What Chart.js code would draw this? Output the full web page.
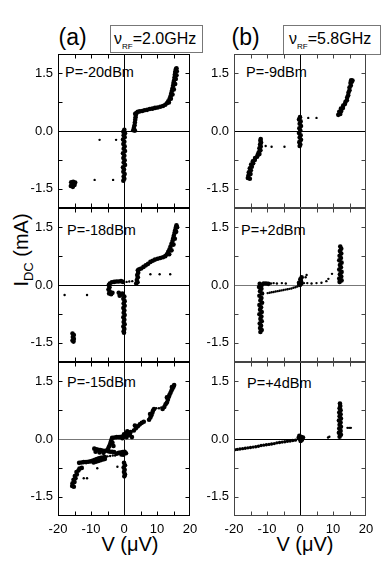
<!DOCTYPE html>
<html><head><meta charset="utf-8">
<script src="https://cdn.jsdelivr.net/npm/chart.js@4.4.0/dist/chart.umd.min.js"></script>
<style>
body{margin:0;background:#fff;}
#page{position:relative;width:382px;height:564px;overflow:hidden;font-family:"Liberation Sans",Arial,sans-serif;color:#000;background:#fff;}
canvas{position:absolute;}
.t{position:absolute;white-space:nowrap;line-height:1;}
.box{position:absolute;border:1px solid #777;box-sizing:border-box;}
</style></head><body><div id="page">
<div class="t" style="left:58.5px;top:25.5px;font-size:23px;">(a)</div>
<div class="t" style="left:231.5px;top:25.5px;font-size:23px;">(b)</div>
<div class="box" style="left:110px;top:25px;width:93px;height:28px;"></div>
<div class="box" style="left:283px;top:25px;width:98px;height:30px;"></div>
<div class="t" style="left:114px;top:31px;font-size:16px;">ν<span style="font-size:8px;position:relative;top:5px;">RF</span>=2.0GHz</div>
<div class="t" style="left:289px;top:31px;font-size:16px;">ν<span style="font-size:8px;position:relative;top:5px;">RF</span>=5.8GHz</div>
<div class="t" style="left:21px;top:250px;font-size:20px;transform:translate(-50%,-50%) rotate(-90deg);">I<span style="font-size:13px;position:relative;top:5px;">DC</span> (mA)</div>
<div class="t" style="left:130px;top:534px;font-size:20px;transform:translateX(-50%);">V (μV)</div>
<div class="t" style="left:305px;top:534px;font-size:20px;transform:translateX(-50%);">V (μV)</div>
<div class="t" style="left:65px;top:64.5px;font-size:14.5px;">P=-20dBm</div>
<div class="t" style="left:246px;top:64.5px;font-size:14.5px;">P=-9dBm</div>
<div class="t" style="left:67px;top:223px;font-size:14.5px;">P=-18dBm</div>
<div class="t" style="left:241px;top:223px;font-size:14.5px;">P=+2dBm</div>
<div class="t" style="left:67px;top:375px;font-size:14.5px;">P=-15dBm</div>
<div class="t" style="left:247px;top:375.5px;font-size:14.5px;">P=+4dBm</div>
</div>
<script>
// ---- axis ticks ----
const xTickVals = [-20,-15,-10,-5,0,5,10,15,20];
const xTickLabels = ['-20','','-10','','0','','10','','20'];
const yTickVals = [-1.5,-0.75,0,0.75,1.5];
const yTickLabels = ['-1.5','','0.0','','1.5'];

// ---- data: [V (µV), I_DC (mA)] ----
// (a) 2.0 GHz, P=-20dBm
const a1Dense = [[-16.0,-1.33],[-15.4,-1.32],[-14.8,-1.34],[-16.1,-1.43],[-15.5,-1.45],[-15.0,-1.40],[-15.7,-1.38],
[0.1,0.03],[-0.2,-0.02],[0.3,-0.06],[-0.1,-0.11],[0.2,-0.16],[-0.3,-0.22],[0.1,-0.28],[-0.2,-0.34],[0.2,-0.40],[-0.1,-0.46],[0.3,-0.52],[-0.3,-0.58],[0.1,-0.64],[-0.2,-0.70],[0.2,-0.76],[-0.1,-0.82],[0.3,-0.88],[-0.3,-0.94],[0.0,-1.00],[-0.2,-1.06],[0.2,-1.12],[-0.1,-1.18],[0.1,-1.24],[-0.2,-1.29],
[2.8,0.02],[3.3,0.01],[3.0,0.08],[3.2,0.15],[3.3,0.22],[3.4,0.29],[3.5,0.36],[3.6,0.42],[3.8,0.47],[3.4,0.45],[4.2,0.50],
[4.8,0.51],[5.5,0.52],[6.2,0.54],[7.0,0.55],[7.8,0.57],[8.6,0.58],[9.4,0.60],[10.2,0.61],[11.0,0.63],[11.8,0.65],[12.5,0.68],[13.0,0.72],[13.4,0.77],[13.8,0.83],[14.1,0.90],[14.3,0.97],[14.5,1.04],[14.7,1.11],[14.9,1.18],[15.0,1.25],[15.2,1.32],[15.3,1.39],[15.4,1.46],[15.5,1.53],[15.7,1.60],[15.9,1.63],[16.0,1.55],[15.9,1.45],[15.7,1.35],[15.5,1.22],[15.1,1.08],[14.7,0.95],[14.2,0.84],[13.6,0.74]];
const a1Sparse = [[-7.4,-0.23],[-2.4,-0.23],[-8.9,-1.27],[-3.3,-1.27]];

// (b) 5.8 GHz, P=-9dBm
const b1Dense = [[-15.8,-1.22],[-15.2,-1.24],[-15.6,-1.15],[-15.0,-1.12],[-15.5,-1.07],[-14.9,-1.02],[-15.2,-0.97],[-14.6,-0.93],[-14.8,-0.87],[-14.2,-0.84],[-14.3,-0.79],[-13.7,-0.75],[-13.6,-0.70],[-13.0,-0.67],[-12.8,-0.62],[-12.3,-0.60],[-12.5,-0.55],[-12.0,-0.50],[-12.3,-0.45],[-11.9,-0.40],[-12.1,-0.35],[-11.8,-0.30],[-12.0,-0.25],[-11.9,-0.21],
[0.0,0.36],[-0.3,0.30],[0.2,0.25],[-0.1,0.19],[0.3,0.13],[-0.2,0.07],[0.1,0.01],[-0.3,-0.05],[0.2,-0.11],[-0.1,-0.17],[0.3,-0.23],[-0.2,-0.29],[0.1,-0.35],[-0.1,-0.39],
[11.6,0.42],[12.2,0.44],[11.9,0.50],[12.5,0.52],[12.4,0.58],[13.0,0.60],[13.1,0.66],[13.6,0.70],[13.8,0.76],[14.2,0.80],[14.3,0.87],[14.6,0.93],[14.7,1.00],[15.0,1.06],[15.0,1.13],[15.4,1.18],[15.3,1.25],[15.7,1.28],[15.5,1.32],[15.9,1.31]];
const b1Sparse = [[-10.4,-0.39],[-8.6,-0.41],[-4.7,-0.41],[2.5,0.34],[5.0,0.34]];

// (a) P=-18dBm
const a2Dense = [[-15.6,-1.26],[-15.2,-1.30],[-15.5,-1.35],[-15.2,-1.40],[-15.6,-1.44],[-15.3,-1.47],
[-4.3,0.04],[-3.7,0.07],[-3.0,0.08],[-2.3,0.09],[-1.6,0.09],[-0.9,0.10],[-0.3,0.08],
[-4.6,0.00],[-4.4,-0.06],[-4.7,-0.12],[-4.3,-0.17],[-4.5,-0.22],[-3.9,-0.24],[-3.5,-0.20],
[-1.6,-0.20],[-1.0,-0.25],[-0.5,-0.22],[-1.3,-0.28],
[0.1,-0.30],[-0.2,-0.36],[0.2,-0.42],[-0.1,-0.48],[0.2,-0.54],[-0.2,-0.60],[0.1,-0.66],[-0.1,-0.72],[0.2,-0.78],[-0.2,-0.84],[0.1,-0.90],[-0.1,-0.96],[0.2,-1.02],[-0.2,-1.08],[0.1,-1.14],[-0.1,-1.20],[0.0,-1.24],
[3.7,0.04],[4.1,0.07],[3.9,0.13],[4.2,0.20],[4.0,0.26],[4.3,0.32],[4.2,0.38],[4.6,0.41],
[5.2,0.43],[5.9,0.47],[6.6,0.51],[7.3,0.55],[8.0,0.60],[8.7,0.63],[9.4,0.66],[10.2,0.68],[11.0,0.70],[11.8,0.72],[12.5,0.75],[13.0,0.80],[13.4,0.86],[13.8,0.93],[14.1,1.00],[14.4,1.07],[14.7,1.14],[14.9,1.21],[15.1,1.28],[15.3,1.35],[15.5,1.42],[15.7,1.49],[15.9,1.55],[16.1,1.50],[15.8,1.38],[15.4,1.20],[15.0,1.05],[14.4,0.90],[13.7,0.80]];
const a2Sparse = [[-18.0,-0.26],[-11.2,-0.26],[0.8,0.08],[1.6,0.09],[2.5,0.10],[8.0,0.28],[10.8,0.28],[14.0,0.28]];

// (b) P=+2dBm
const b2Dense = [[-12.2,0.03],[-11.6,0.00],[-12.4,-0.05],[-11.7,-0.10],[-12.1,-0.16],[-11.5,-0.22],[-12.3,-0.28],[-11.7,-0.34],[-12.0,-0.40],[-11.5,-0.46],[-12.3,-0.52],[-11.8,-0.58],[-12.1,-0.64],[-11.6,-0.70],[-12.3,-0.76],[-11.7,-0.82],[-12.0,-0.88],[-11.6,-0.94],[-12.2,-1.00],[-11.8,-1.06],[-12.1,-1.12],[-11.6,-1.17],[-12.0,-1.22],
[-11.0,0.04],[-10.3,0.04],[-9.6,0.03],
[0.0,0.00],[0.4,0.04],[-0.3,0.06],[0.3,0.10],[0.1,0.15],[0.5,0.20],[-0.2,0.02],
[12.0,0.08],[12.6,0.12],[11.9,0.17],[12.5,0.22],[12.1,0.28],[12.6,0.34],[11.9,0.40],[12.4,0.46],[12.1,0.52],[12.6,0.58],[11.9,0.64],[12.4,0.70],[12.0,0.76],[12.5,0.82],[12.1,0.88],[12.5,0.94],[12.2,1.00]];
const b2Sparse = [[-9.8,-0.21],[-9.2,-0.20],[-8.6,-0.19],[-8.0,-0.18],[-7.4,-0.17],[-6.8,-0.16],[-6.2,-0.15],[-5.6,-0.14],[-5.0,-0.13],[-4.4,-0.12],[-3.8,-0.11],[-3.2,-0.10],[-2.6,-0.09],[-2.0,-0.07],[-1.4,-0.06],[-0.8,-0.04],
[-8.8,0.04],[-8.0,0.05],[-7.0,0.04],[-5.5,0.05],[-4.3,0.04],
[1.2,0.05],[2.2,0.05],[3.5,0.04],[5.0,0.05],[6.5,0.06],[8.0,0.10],[8.6,0.16],[9.7,0.29],[2.0,0.26],[1.7,0.20]];

// (a) P=-15dBm
const a3Dense = [[-15.7,-1.22],[-15.2,-1.24],[-15.6,-1.15],[-15.0,-1.12],[-15.3,-1.06],[-14.7,-1.02],[-14.9,-0.96],[-14.3,-0.92],[-14.4,-0.86],[-13.8,-0.82],[-13.5,-0.77],[-12.8,-0.75],
[-13.6,-0.62],[-12.9,-0.61],[-12.2,-0.60],[-11.5,-0.60],[-10.8,-0.59],[-10.1,-0.58],[-9.4,-0.56],[-8.8,-0.54],[-8.2,-0.52],[-7.6,-0.50],[-7.0,-0.49],[-6.4,-0.48],[-5.8,-0.47],
[-9.2,-0.61],[-8.5,-0.59],[-7.8,-0.57],[-7.1,-0.55],[-6.4,-0.53],[-5.8,-0.52],
[-2.2,-0.38],[-1.6,-0.36],[-1.0,-0.35],[-0.4,-0.34],[0.2,-0.33],[0.6,-0.37],[-0.8,-0.40],[-0.2,-0.41],
[0.0,-0.62],[0.3,-0.68],[-0.1,-0.74],[0.2,-0.80],[0.0,-0.86],[0.3,-0.92],[0.1,-0.97],
[-9.0,-0.25],[-8.4,-0.27],[-7.8,-0.28],[-7.2,-0.29],[-6.6,-0.30],[-6.0,-0.31],[-5.4,-0.30],[-4.8,-0.32],[-4.2,-0.33],[-3.6,-0.33],[-3.0,-0.34],[-8.6,-0.33],[-7.4,-0.35],[-6.2,-0.36],
[-4.8,-0.25],[-4.5,-0.19],[-4.2,-0.13],[-4.0,-0.07],[-3.8,-0.02],[-3.2,-0.18],[-3.5,-0.10],
[-3.6,0.03],[-2.9,0.04],[-2.2,0.05],[-1.5,0.05],[-0.8,0.06],
[-0.5,0.02],[0.2,0.08],[0.8,0.05],[0.6,0.15],[1.3,0.12],[1.0,0.20],[1.8,0.10],[2.4,0.05],[2.0,0.18],[0.0,0.12],
[3.0,0.22],[3.6,0.28],[4.2,0.33],[4.8,0.38],[5.4,0.42],[6.0,0.45],[3.3,0.35],
[7.6,0.50],[8.0,0.56],[8.3,0.62],[8.6,0.68],[8.8,0.74],[9.1,0.78],[7.9,0.65],
[11.7,0.78],[12.2,0.83],[12.6,0.90],[13.0,0.95],[13.3,1.02],[13.0,1.08],[13.6,1.10],
[13.8,1.15],[14.1,1.20],[14.4,1.26],[14.7,1.31],[15.0,1.36],[15.2,1.40],[14.5,1.35]];
const a3Sparse = [[-12.2,-1.02],[-11.2,-1.02],[-8.1,-0.76],[-2.0,-0.72],[-5.0,-0.45],[-4.2,-0.44],[-3.4,-0.43],[-2.7,-0.43],[9.8,0.80],[10.6,0.80],[11.3,0.82]];

// (b) P=+4dBm
const b3Line = [[-19.8,-0.28],[-19.0,-0.27],[-18.2,-0.26],[-17.4,-0.25],[-16.6,-0.24],[-15.8,-0.23],[-15.0,-0.22],[-14.2,-0.21],[-13.4,-0.20],[-12.6,-0.19],[-11.8,-0.17],[-11.0,-0.16],[-10.2,-0.15],[-9.4,-0.14],[-8.6,-0.13],[-7.8,-0.12],[-7.0,-0.10],[-6.2,-0.09],[-5.4,-0.08],[-4.6,-0.07],[-3.8,-0.06],[-3.0,-0.05],[-2.2,-0.04],[-1.4,-0.03]];
const b3Dense = [[0.0,0.00],[0.4,0.05],[-0.4,0.03],[0.2,-0.05],[-0.2,0.08],[0.6,-0.02],[0.9,0.04],
[12.0,0.06],[12.4,0.11],[11.8,0.16],[12.3,0.21],[11.9,0.27],[12.4,0.32],[12.0,0.37],[12.3,0.43],[11.8,0.48],[12.4,0.53],[12.0,0.59],[12.3,0.64],[11.9,0.69],[12.3,0.75],[12.0,0.80],[12.2,0.86],[12.1,0.92]];
const b3Sparse = [[8.5,0.04],[8.9,0.06],[14.4,0.29],[14.9,0.29],[15.4,0.29]];

// ---- layout ----
const FONT = '"Liberation Sans", Arial, sans-serif';
const colLeft = [58, 234];
const rowTop = [54, 208, 362];
const PW = 132, PH = 154, AXW = 44, PADT = 6, PADR = 10;

const framePlugin = {
  id: 'frame',
  afterDatasetsDraw(chart, args, opts) {
    const {ctx, chartArea: a, scales: {x, y}} = chart;
    ctx.save();
    ctx.strokeStyle = opts.color;
    ctx.lineWidth = 1;
    const L = Math.round(a.left) + 0.5, R = Math.round(a.right) - 0.5;
    const T = Math.round(a.top) + 0.5, B = Math.round(a.bottom) - 0.5;
    ctx.strokeRect(L, T, R - L, B - T);
    ctx.beginPath();
    xTickVals.forEach(v => {
      if (v <= -20 || v >= 20 || v === 0) return;
      const px = Math.round(x.getPixelForValue(v)) + 0.5;
      ctx.moveTo(px, T); ctx.lineTo(px, T + 4);
      ctx.moveTo(px, B); ctx.lineTo(px, B - 4);
    });
    yTickVals.forEach(v => {
      if (v === 0) return;
      const py = Math.round(y.getPixelForValue(v)) + 0.5;
      ctx.moveTo(L, py); ctx.lineTo(L + 4, py);
      ctx.moveTo(R, py); ctx.lineTo(R - 4, py);
    });
    ctx.stroke();
    ctx.restore();
  }
};

function toXY(arr) { return arr.map(p => ({x: p[0], y: p[1]})); }

function makePanel(col, row, dense, sparse, line, zeroH, zeroV, frameColor) {
  const isBottom = row === 2;
  const c = document.createElement('canvas');
  const W = AXW + PW + PADR;
  const H = PADT + PH + (isBottom ? 22 : 6);
  c.width = W; c.height = H;
  c.style.left = (colLeft[col] - AXW) + 'px';
  c.style.top = (rowTop[row] - PADT) + 'px';
  c.style.width = W + 'px'; c.style.height = H + 'px';
  document.getElementById('page').appendChild(c);
  const sets = [
    {data: toXY(dense), pointRadius: 2.3, pointBackgroundColor: '#000', pointBorderWidth: 0},
    {data: toXY(sparse), pointRadius: 1.2, pointBackgroundColor: '#000', pointBorderWidth: 0}
  ];
  if (line) sets.push({data: toXY(line), pointRadius: 1.7, pointBackgroundColor: '#000', pointBorderWidth: 0});
  new Chart(c, {
    type: 'scatter',
    data: {datasets: sets},
    options: {
      responsive: false, animation: false, devicePixelRatio: 1,
      layout: {padding: {top: PADT, right: PADR, bottom: isBottom ? 0 : 6, left: 0}},
      plugins: {legend: {display: false}, tooltip: {enabled: false}, frame: {color: frameColor}},
      scales: {
        x: {
          type: 'linear', min: -20, max: 20,
          afterBuildTicks: s => { s.ticks = xTickVals.map(v => ({value: v})); },
          afterFit: s => { s.height = isBottom ? 22 : 0; s.paddingLeft = 0; s.paddingRight = 0; s.paddingTop = 0; s.paddingBottom = 0; },
          ticks: {display: isBottom, autoSkip: false, maxRotation: 0, padding: 6, color: '#000',
                  font: {family: FONT, size: 13}, callback: (v, i) => xTickLabels[i]},
          grid: {drawTicks: false, lineWidth: 1,
                 color: ctx => (ctx.tick && ctx.tick.value === 0) ? zeroV : 'rgba(0,0,0,0)'},
          border: {display: false}
        },
        y: {
          type: 'linear', min: -2, max: 2,
          afterBuildTicks: s => { s.ticks = yTickVals.map(v => ({value: v})); },
          afterFit: s => { s.width = AXW; s.paddingTop = 0; s.paddingBottom = 0; s.paddingLeft = 0; s.paddingRight = 0; },
          ticks: {autoSkip: false, padding: 5, color: '#000', font: {family: FONT, size: 13},
                  callback: (v, i) => yTickLabels[i]},
          grid: {drawTicks: false, lineWidth: 1,
                 color: ctx => (ctx.tick && ctx.tick.value === 0) ? zeroH : 'rgba(0,0,0,0)'},
          border: {display: false}
        }
      }
    },
    plugins: [framePlugin]
  });
}

makePanel(0, 0, a1Dense, a1Sparse, null, '#000', '#000', '#000');
makePanel(1, 0, b1Dense, b1Sparse, null, '#000', '#000', '#444');
makePanel(0, 1, a2Dense, a2Sparse, null, '#000', '#000', '#000');
makePanel(1, 1, b2Dense, b2Sparse, null, '#777', '#000', '#444');
makePanel(0, 2, a3Dense, a3Sparse, null, '#777', '#111', '#000');
makePanel(1, 2, b3Dense, b3Sparse, b3Line, '#000', '#000', '#444');
</script>
</body></html>
